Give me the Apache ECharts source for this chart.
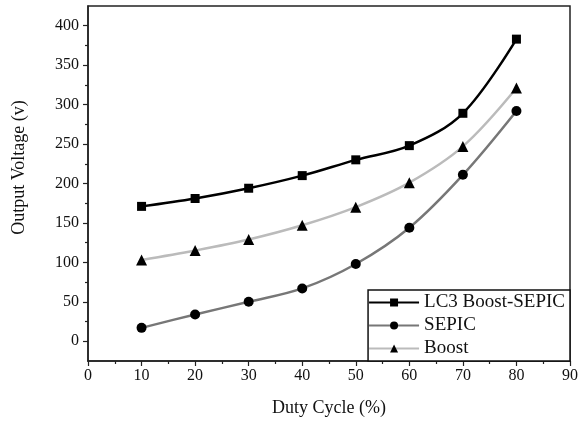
<!DOCTYPE html>
<html><head><meta charset="utf-8">
<script src="https://cdn.jsdelivr.net/npm/echarts@6/dist/echarts.min.js"></script>
<style>html,body{margin:0;padding:0;background:#fff}#c{width:582px;height:422px}</style>
</head><body><div id="c"></div>
<script>
const dutyCycle = [10, 20, 30, 40, 50, 60, 70, 80];
const lc3BoostSepic = [171, 181, 194, 210, 230, 248, 289, 383];
const sepic = [17, 34, 50, 67, 98, 144, 211, 292];
const boost = [103, 115, 129, 147, 170, 201, 247, 321];
const yMajorTicks = [0, 50, 100, 150, 200, 250, 300, 350, 400];
const yMinorTicks = [25, 75, 125, 175, 225, 275, 325, 375];

const font = '"Liberation Serif", "Times New Roman", serif';
const pair = a => dutyCycle.map((x, i) => [x, a[i]]);
const chart = echarts.init(document.getElementById('c'));
chart.setOption({
  animation: false,
  textStyle: { fontFamily: font },
  grid: { left: 88, right: 12, top: 6, bottom: 61, show: true, borderColor: '#222', borderWidth: 1.5 },
  xAxis: {
    type: 'value', min: 0, max: 90, interval: 10,
    name: 'Duty Cycle (%)', nameLocation: 'middle', nameGap: 38,
    nameTextStyle: { fontFamily: font, fontSize: 18, color: '#111' },
    axisLine: { show: true, onZero: false, lineStyle: { color: '#222', width: 1.5 } },
    axisTick: { show: true, length: 5, lineStyle: { color: '#222', width: 1.2 } },
    minorTick: { show: true, splitNumber: 2, length: 3, lineStyle: { color: '#222', width: 1.2 } },
    axisLabel: { fontFamily: font, fontSize: 16, color: '#111', margin: 7 },
    splitLine: { show: false }, minorSplitLine: { show: false }
  },
  yAxis: [{
    type: 'value', min: -25, max: 425,
    name: 'Output Voltage (v)', nameLocation: 'middle', nameGap: 60,
    nameTextStyle: { fontFamily: font, fontSize: 18, color: '#111', padding: [0, 0, 0, 32] },
    axisLine: { show: true, onZero: false, lineStyle: { color: '#222', width: 1.5 } },
    axisTick: { show: true, length: 5, customValues: yMajorTicks, lineStyle: { color: '#222', width: 1.2 } },
    axisLabel: { fontFamily: font, fontSize: 16, color: '#111', margin: 9, customValues: yMajorTicks },
    splitLine: { show: false }
  }, {
    type: 'value', min: -25, max: 425, position: 'left',
    axisLine: { show: false, onZero: false },
    axisTick: { show: true, length: 3, customValues: yMinorTicks, lineStyle: { color: '#222', width: 1.2 } },
    axisLabel: { show: false },
    splitLine: { show: false }
  }],
  legend: {
    orient: 'vertical', right: 12, bottom: 61,
    itemWidth: 50, itemHeight: 10, itemGap: 4,
    padding: [3, 5, 3, 0],
    borderColor: '#111', borderWidth: 1.5, backgroundColor: '#fff',
    textStyle: { fontFamily: font, fontSize: 19, color: '#111' },
    data: ['LC3 Boost-SEPIC', 'SEPIC', 'Boost']
  },
  series: [
    { name: 'LC3 Boost-SEPIC', type: 'line', smooth: 0.35, data: pair(lc3BoostSepic),
      symbol: 'rect', symbolSize: 9, lineStyle: { color: '#000', width: 2.5 },
      itemStyle: { color: '#000' }, z: 3 },
    { name: 'SEPIC', type: 'line', smooth: 0.35, data: pair(sepic),
      symbol: 'circle', symbolSize: 10, lineStyle: { color: '#777', width: 2.5 },
      itemStyle: { color: '#000' }, z: 2 },
    { name: 'Boost', type: 'line', smooth: 0.35, data: pair(boost),
      symbol: 'triangle', symbolSize: 11, lineStyle: { color: '#bbb', width: 2.5 },
      itemStyle: { color: '#000' }, z: 2 }
  ]
});
</script></body></html>
